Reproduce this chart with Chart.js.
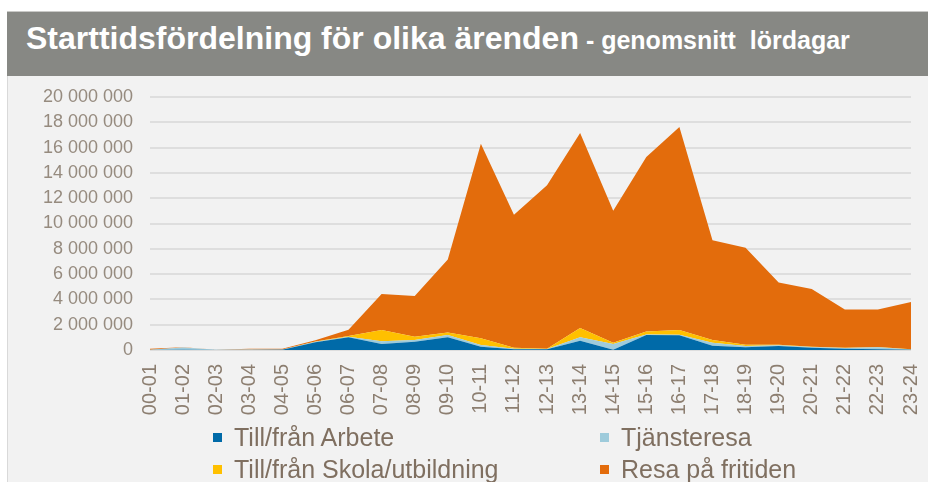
<!DOCTYPE html>
<html>
<head>
<meta charset="utf-8">
<script src="https://cdn.jsdelivr.net/npm/chart.js@4/dist/chart.umd.min.js"></script>
<style>
  html, body { margin: 0; padding: 0; background: #ffffff; width: 928px; height: 482px; overflow: hidden; }
  #header { position: absolute; left: 7px; top: 11px; width: 921px; height: 65px; background: #878884; border-top: 1px solid #c9c9c7; box-sizing: border-box; }
  #title { position: absolute; left: 19px; top: 8px; white-space: pre; color: #ffffff; font-family: "Liberation Sans", Arial, sans-serif; font-weight: bold; }
  #title .main { font-size: 32px; }
  #title .sub { font-size: 25px; }
  #panel { position: absolute; left: 7px; top: 76px; width: 921px; height: 406px; background: #f2f2f2; border-left: 1px solid #d9d9d9; box-sizing: border-box; }
  #chartwrap { position: absolute; left: 0; top: 0; width: 921px; height: 406px; }
  .lg { position: absolute; font-family: "Liberation Sans", Arial, sans-serif; font-size: 25px; color: #7f6f60; white-space: nowrap; line-height: 28px; }
  .sw { position: absolute; width: 9px; height: 9px; }
</style>
</head>
<body>
<div id="header"><div id="title"><span class="main">Starttidsfördelning för olika ärenden</span><span class="sub"> - genomsnitt  lördagar</span></div></div>
<div id="panel"><canvas id="c" width="921" height="406" style="position:absolute;left:-1px;top:0;"></canvas></div>
<div id="legend"></div>
<script>
const hours = ['00-01','01-02','02-03','03-04','04-05','05-06','06-07','07-08','08-09','09-10','10-11','11-12','12-13','13-14','14-15','15-16','16-17','17-18','18-19','19-20','20-21','21-22','22-23','23-24'];
const yTicks = [0, 2000000, 4000000, 6000000, 8000000, 10000000, 12000000, 14000000, 16000000, 18000000, 20000000];

const arbete = [0, 20000, 0, 0, 20000, 620000, 1000000, 470000, 660000, 1000000, 260000, 50000, 50000, 740000, 20000, 1180000, 1160000, 340000, 210000, 320000, 180000, 100000, 50000, 20000];
const tjanst = [20000, 180000, 20000, 40000, 20000, 40000, 50000, 230000, 140000, 180000, 140000, 50000, 20000, 260000, 450000, 40000, 40000, 240000, 110000, 50000, 60000, 60000, 160000, 20000];
const skola = [0, 0, 0, 0, 0, 20000, 60000, 880000, 250000, 210000, 520000, 80000, 30000, 740000, 110000, 250000, 380000, 210000, 100000, 50000, 20000, 20000, 30000, 10000];
const fritid = [80000, 20000, 0, 60000, 60000, 100000, 500000, 2840000, 3210000, 5770000, 15380000, 10520000, 12930000, 15420000, 10420000, 13790000, 16050000, 7890000, 7660000, 4920000, 4560000, 3030000, 2970000, 3740000];

const seriesNames = ['Till/från Arbete', 'Tjänsteresa', 'Till/från Skola/utbildning', 'Resa på fritiden'];
const seriesColors = ['#006aa8', '#9ecbdb', '#ffc000', '#e36c0c'];
const seriesData = [arbete, tjanst, skola, fritid];

function fmt(v) { return String(v).replace(/\B(?=(\d{3})+(?!\d))/g, ' '); }

const datasets = seriesData.map((d, i) => ({
  label: seriesNames[i],
  data: d,
  backgroundColor: seriesColors[i],
  borderColor: seriesColors[i],
  borderWidth: 0,
  pointRadius: 0,
  tension: 0,
  fill: i === 0 ? 'origin' : '-1'
}));

function zeroPad(s) { s.paddingLeft = 0; s.paddingRight = 0; s.paddingTop = 0; s.paddingBottom = 0; }

new Chart(document.getElementById('c'), {
  type: 'line',
  data: { labels: hours, datasets },
  options: {
    responsive: false,
    animation: false,
    layout: { padding: { top: 21, right: 17, left: 0, bottom: 0 } },
    plugins: { legend: { display: false }, tooltip: { enabled: false } },
    scales: {
      x: {
        offset: false,
        grid: { display: false, drawTicks: false },
        border: { display: false },
        ticks: { autoSkip: false, maxRotation: 90, minRotation: 90, padding: 14, color: '#8c7e70', font: { family: 'Liberation Sans', size: 20 } },
        afterFit: s => { s.height = 132; zeroPad(s); }
      },
      y: {
        stacked: true,
        min: 0, max: 20000000,
        afterBuildTicks: s => { s.ticks = yTicks.map(v => ({ value: v })); },
        grid: { color: '#dedede', lineWidth: 2, drawTicks: false },
        border: { display: false },
        ticks: { padding: 17, color: '#968b7f', font: { family: 'Liberation Sans', size: 18 }, callback: v => fmt(v) },
        afterFit: s => { s.width = 143; zeroPad(s); }
      }
    }
  }
});

const legendPos = [[213, 437], [600, 437], [213, 469], [600, 469]];
const lg = document.getElementById('legend');
seriesNames.forEach((n, i) => {
  const [x, y] = legendPos[i];
  const sw = document.createElement('div');
  sw.className = 'sw';
  sw.style.left = x + 'px'; sw.style.top = (y - 4) + 'px';
  sw.style.background = seriesColors[i];
  lg.appendChild(sw);
  const t = document.createElement('div');
  t.className = 'lg';
  t.textContent = n;
  t.style.left = (x + 21) + 'px'; t.style.top = (y - 14) + 'px';
  lg.appendChild(t);
});
</script>
</body>
</html>
